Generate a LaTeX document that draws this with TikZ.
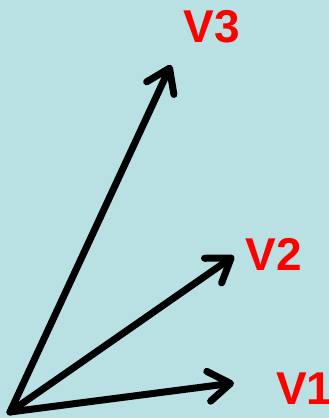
\documentclass[tikz,border=0pt]{standalone}
\usepackage{fontspec}
\setmainfont{Liberation Sans}
\usetikzlibrary{arrows.meta}
\definecolor{bgblue}{RGB}{185,224,227}
\definecolor{vred}{RGB}{255,0,0}
\tikzset{
  vec/.style={line width=7pt,line cap=round,-{Straight Barb[length=22pt,width=30pt,line cap=round,line join=round]}},
  vlab/.style={text=vred,font=\fontsize{46}{46}\selectfont\bfseries,inner sep=0pt}
}
\begin{document}
\begin{tikzpicture}[x=1pt,y=1pt]
\fill[bgblue] (0,0) rectangle (329,418);
\useasboundingbox (0,0) rectangle (329,418);
\coordinate (o) at (10,6);
\coordinate (t1) at (234,35);
\coordinate (t2) at (234,162);
\coordinate (t3) at (171,353);
\draw[vec] (o) -- (t1);
\draw[vec] (o) -- (t2);
\draw[vec] (o) -- (t3);
\node[vlab,anchor=west] (v1) at (276,29) {V1};
\node[vlab] (v2) at (274,164) {V2};
\node[vlab] (v3) at (212,391) {V3};
\end{tikzpicture}
\end{document}
